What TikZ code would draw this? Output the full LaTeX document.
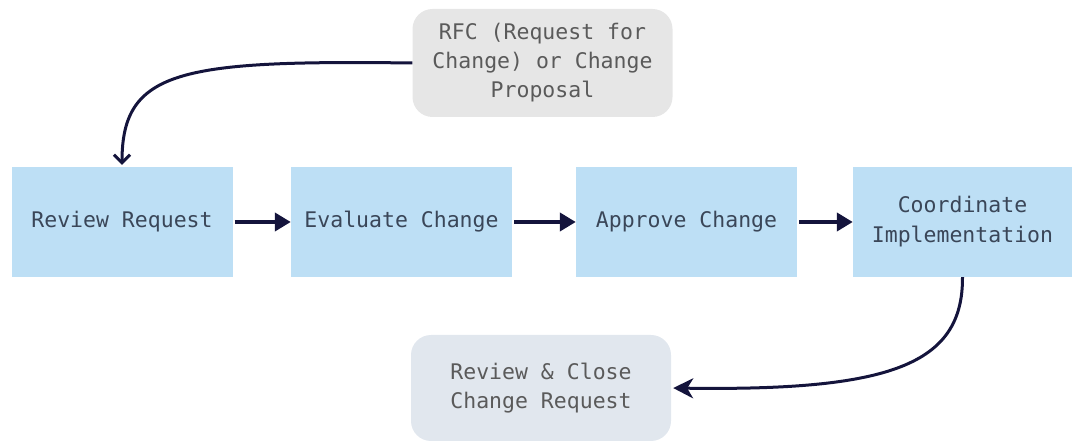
\documentclass[tikz,border=0pt]{standalone}
\usepackage{fontspec}
\setmonofont{DejaVu Sans Mono}
\usetikzlibrary{arrows.meta}
\definecolor{stepfill}{HTML}{BDDFF5}
\definecolor{rfcfill}{HTML}{E6E6E6}
\definecolor{closefill}{HTML}{E1E7EE}
\definecolor{navy}{HTML}{14143C}
\definecolor{steptext}{HTML}{3A4658}
\definecolor{greytext}{HTML}{5A5A5A}
\tikzset{
  stepbox/.style={fill=stepfill, minimum width=221pt, minimum height=110pt,
    inner sep=0pt, align=center, text=steptext, font=\ttfamily\fontsize{21.5}{30}\selectfont},
  softbox/.style={rounded corners=20pt, minimum width=260pt, minimum height=108pt,
    inner sep=0pt, align=center, text=greytext, font=\ttfamily\fontsize{21.5}{29}\selectfont},
  flow/.style={draw=navy, line width=4pt, shorten <=2pt,
    -{Triangle[length=16pt,width=18pt]}},
  curvedlink/.style={draw=navy, line width=3pt},
}
\begin{document}
\begin{tikzpicture}[x=1pt,y=-1pt]
\useasboundingbox (0,0) rectangle (1072,443);
\node[softbox, fill=rfcfill] (rfc) at (542.5,63) {RFC (Request for\\Change) or Change\\Proposal};
\node[stepbox] (review) at (122,222) {Review Request};
\node[stepbox] (eval) at (401.5,222) {Evaluate Change};
\node[stepbox] (approve) at (686.5,222) {Approve Change};
\node[stepbox, minimum width=219pt] (coord) at (962.5,222) {Coordinate\\Implementation};
\node[softbox, fill=closefill, minimum height=106pt] (close) at (541,388) {Review \& Close\\Change Request};
\draw[curvedlink, -{Straight Barb[length=8pt,width=16pt,line width=3pt]}, shorten >=2pt]
  (rfc.west) .. controls (180,60) and (122,70) .. (review.north);
\draw[flow] (review.east) -- (eval.west);
\draw[flow] (eval.east) -- (approve.west);
\draw[flow] (approve.east) -- (coord.west);
\draw[curvedlink, -{Stealth[length=20pt,width=20pt,inset=6pt]}, shorten >=2pt]
  (coord.south) .. controls (963,365) and (890,391) .. (close.east);
\end{tikzpicture}
\end{document}
